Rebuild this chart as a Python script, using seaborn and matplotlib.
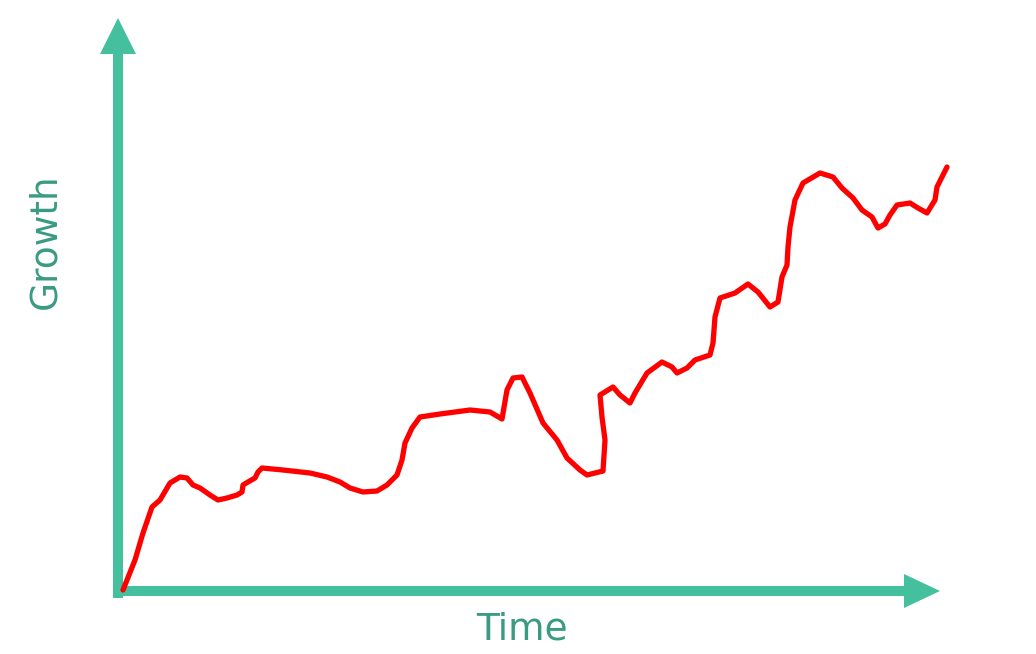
import numpy as np
import pandas as pd
import matplotlib
matplotlib.use("Agg")
import matplotlib.pyplot as plt
import seaborn as sns

# -----------------------------
# Data
# -----------------------------

time = [5, 17, 25, 34, 42, 52, 62, 69, 75, 82, 92, 100, 109, 119, 124, 125,
        130, 137, 140, 144, 165, 192, 209, 222, 232, 245, 259, 269, 279, 284,
        287, 294, 302, 322, 352, 372, 384, 389, 395, 404, 412, 425, 439, 449,
        462, 469, 485, 487, 484, 482, 495, 502, 512, 517, 529, 544, 554, 559,
        569, 577, 592, 595, 597, 602, 617, 630, 640, 652, 660, 664, 669, 670,
        672, 677, 685, 702, 715, 724, 735, 744, 754, 760, 767, 772, 779, 792,
        800, 809, 817, 819, 829]

growth = [1, 31, 58, 84, 91, 108, 114, 113, 106, 103, 96, 91, 93, 96, 99,
          106, 109, 113, 119, 123, 121, 118, 114, 109, 103, 99, 100, 106, 116,
          131, 148, 163, 174, 177, 181, 179, 172, 201, 213, 214, 198, 168, 151,
          133, 121, 116, 120, 151, 174, 196, 204, 196, 188, 198, 218, 229, 224,
          218, 223, 231, 236, 248, 274, 293, 298, 307, 299, 284, 289, 314, 326,
          344, 364, 391, 408, 418, 414, 403, 393, 381, 374, 363, 367, 376, 386,
          388, 383, 378, 391, 404, 424]

df = pd.DataFrame({"Time": time, "Growth": growth})

# -----------------------------
# Figure
# -----------------------------

sns.set_style("white")
plt.rcParams["font.family"] = ["DejaVu Sans"]

axis_color = "#45c09f"
label_color = "#3a9b82"

fig = plt.figure(figsize=(10.36, 6.54), dpi=100)
ax = fig.add_axes([0, 0, 1, 1])

# one data unit = one pixel, origin at the axes corner
ax.set_xlim(-118, 1036 - 118)
ax.set_ylim(-(654 - 591), 591)
ax.axis("off")

# hand-drawn style axis arrows
ax.arrow(0, -7, 0, 580, width=10, head_width=36, head_length=36,
         length_includes_head=True, color=axis_color, lw=0)
ax.arrow(-5, 0, 827, 0, width=10, head_width=34, head_length=36,
         length_includes_head=True, color=axis_color, lw=0)

sns.lineplot(
    data=df,
    x="Time",
    y="Growth",
    sort=False,
    estimator=None,
    color="#ff0000",
    linewidth=3.8,
    ax=ax
)
for line in ax.get_lines():
    line.set_solid_joinstyle("round")
    line.set_solid_capstyle("round")

ax.text(-73, 350, "Growth", rotation=90, ha="center", va="center",
        fontsize=27, color=label_color)
ax.text(404, -39, "Time", ha="center", va="center",
        fontsize=27, color=label_color)

fig.savefig("out.png", dpi=100)
